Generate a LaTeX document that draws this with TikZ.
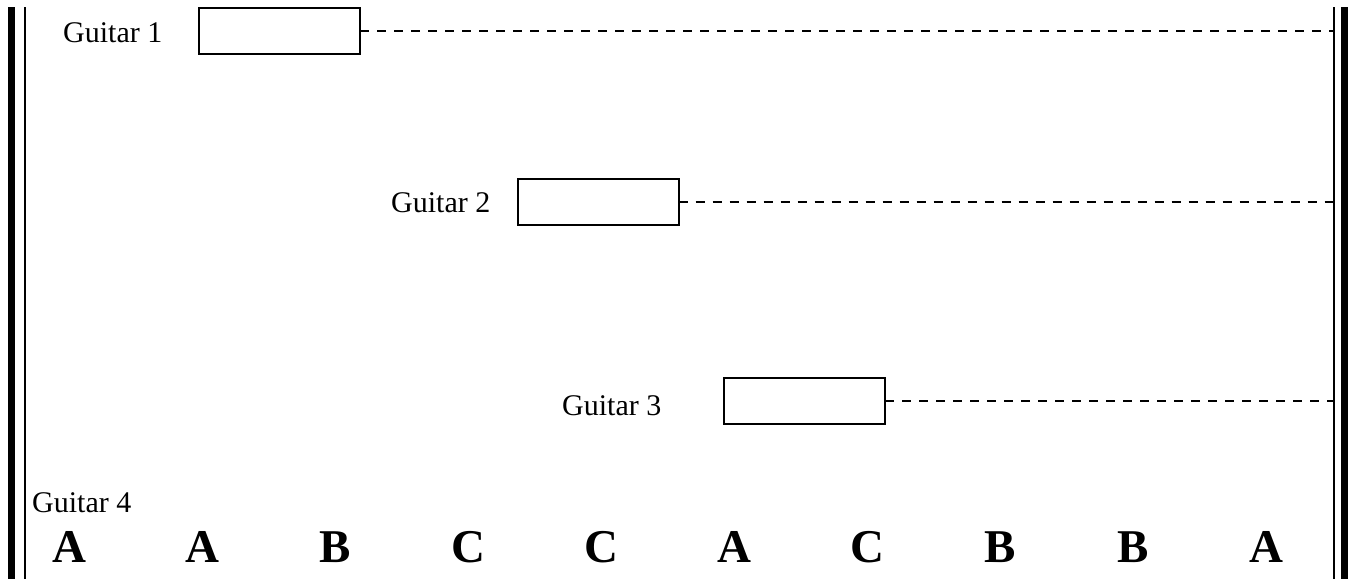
\documentclass[tikz,border=0pt]{standalone}
\usepackage{fontspec}
\setmainfont{Liberation Serif}
\begin{document}
\begin{tikzpicture}[x=1pt,y=-1pt,
  lbl/.style={inner sep=0pt,anchor=base west,font=\fontsize{30}{33}\selectfont},
  part/.style={draw,line width=2pt,minimum width=161pt,minimum height=46pt,inner sep=0pt,outer sep=0pt,anchor=north west},
  hold/.style={dash pattern=on 9pt off 8pt,line width=1.8pt},
  chord/.style={inner sep=0pt,anchor=base,font=\bfseries\fontsize{47}{50}\selectfont},
  thick bar/.style={line width=7pt},
  thin bar/.style={line width=2pt}]
\useasboundingbox (0,0) rectangle (1350,579);
% bars
\coordinate (lt1) at (11.5,7); \coordinate (lb1) at (11.5,579);
\coordinate (lt2) at (24.5,7); \coordinate (lb2) at (24.5,579);
\coordinate (rt1) at (1333.5,7); \coordinate (rb1) at (1333.5,579);
\coordinate (rt2) at (1344.5,7); \coordinate (rb2) at (1344.5,579);
\draw[thick bar] (lt1) -- (lb1);
\draw[thin bar] (lt2) -- (lb2);
\draw[thin bar] (rt1) -- (rb1);
\draw[thick bar] (rt2) -- (rb2);
% guitar 1
\node[lbl] (g1) at (63,42) {Guitar 1};
\node[part] (p1) at (199,8) {};
\coordinate (e1) at (p1.east -| rt1);
\draw[hold] (p1.east) -- (e1);
% guitar 2
\node[lbl] (g2) at (391,212) {Guitar 2};
\node[part] (p2) at (517.5,179) {};
\coordinate (e2) at (p2.east -| rt1);
\draw[hold] (p2.east) -- (e2);
% guitar 3
\node[lbl] (g3) at (562,415) {Guitar 3};
\node[part] (p3) at (724,378) {};
\coordinate (e3) at (p3.east -| rt1);
\draw[hold] (p3.east) -- (e3);
% guitar 4
\node[lbl] (g4) at (32,512) {Guitar 4};
\foreach \l [count=\i] in {A,A,B,C,C,A,C,B,B,A}{
  \node[chord] (c\i) at ({69+133*(\i-1)},562) {\l};
}
\end{tikzpicture}
\end{document}
